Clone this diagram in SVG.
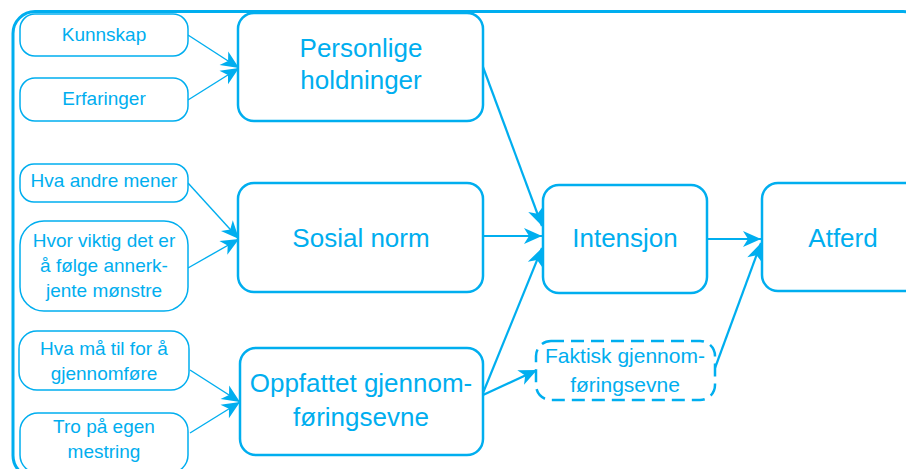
<svg xmlns="http://www.w3.org/2000/svg" width="906" height="469" viewBox="0 0 906 469">
<style>
.frame{fill:none;stroke:#00aeef;stroke-width:3}
.small{fill:#fff;stroke:#00aeef;stroke-width:1.5}
.big{fill:#fff;stroke:#00aeef;stroke-width:2.5}
.dash{fill:#fff;stroke:#00aeef;stroke-width:2.5;stroke-dasharray:13 7}
.ts{font-family:"Liberation Sans",Arial,sans-serif;font-size:19px;fill:#00aeef;text-anchor:middle}
.tb{font-family:"Liberation Sans",Arial,sans-serif;font-size:26px;fill:#00aeef;text-anchor:middle}
.tf{font-family:"Liberation Sans",Arial,sans-serif;font-size:21px;fill:#00aeef;text-anchor:middle}
.c1{fill:none;stroke:#00aeef;stroke-width:1.4;marker-end:url(#ah)}
.c2{fill:none;stroke:#00aeef;stroke-width:2.2;marker-end:url(#ah)}
</style>
<defs>
<marker id="ah" markerUnits="userSpaceOnUse" markerWidth="20" markerHeight="18" refX="18" refY="8" orient="auto" viewBox="0 0 20 18" overflow="visible">
<path d="M0,0 L18,8 L0,16 L5,8 z" fill="#00aeef"/>
</marker>
</defs>
<rect class="frame" x="13" y="11.5" width="912" height="466" rx="22"/>
<g id="connectors">
<path class="c1" d="M188,35 L239,68"/>
<path class="c1" d="M188,100 L239,68"/>
<path class="c1" d="M188,183 L239,239"/>
<path class="c1" d="M188,268 L239,239"/>
<path class="c1" d="M190,370 L240,402"/>
<path class="c1" d="M190,433 L240,402"/>
<path class="c2" d="M483,67 L542,226"/>
<path class="c2" d="M483,236 L542,236"/>
<path class="c2" d="M483,393 L542,248"/>
<path class="c2" d="M483,395 L537,370"/>
<path class="c2" d="M707,239 L761,239"/>
<path class="c2" d="M715,368 L761,243"/>
</g>
<g id="kunnskap"><rect class="small" x="20" y="14" width="168" height="42" rx="15"/><text class="ts" x="104" y="41">Kunnskap</text></g>
<g id="erfaringer"><rect class="small" x="20" y="78" width="168" height="43" rx="15"/><text class="ts" x="104" y="105">Erfaringer</text></g>
<g id="hva-andre"><rect class="small" x="20" y="164" width="168" height="38" rx="14"/><text class="ts" x="104" y="187">Hva andre mener</text></g>
<g id="hvor-viktig"><rect class="small" x="20" y="221" width="168" height="90" rx="24"/><text class="ts" x="104" y="247">Hvor viktig det er</text><text class="ts" x="104" y="272">å følge annerk-</text><text class="ts" x="104" y="297">jente mønstre</text></g>
<g id="hva-maa"><rect class="small" x="19" y="331" width="170" height="59" rx="18"/><text class="ts" x="104" y="355">Hva må til for å</text><text class="ts" x="104" y="380">gjennomføre</text></g>
<g id="tro-paa"><rect class="small" x="20" y="413" width="168" height="60" rx="18"/><text class="ts" x="104" y="433">Tro på egen</text><text class="ts" x="104" y="458">mestring</text></g>
<g id="personlige"><rect class="big" x="238" y="13" width="245" height="108" rx="16"/><text class="tb" x="361" y="57">Personlige</text><text class="tb" x="361" y="89">holdninger</text></g>
<g id="sosial"><rect class="big" x="238" y="183" width="245" height="109" rx="16"/><text class="tb" x="361" y="247">Sosial norm</text></g>
<g id="oppfattet"><rect class="big" x="240" y="348" width="243" height="107" rx="16"/><text class="tb" x="361" y="392">Oppfattet gjennom-</text><text class="tb" x="361" y="426">føringsevne</text></g>
<g id="intensjon"><rect class="big" x="543" y="185" width="164" height="108" rx="16"/><text class="tb" x="625" y="247">Intensjon</text></g>
<g id="atferd"><rect class="big" x="762" y="183" width="170" height="108" rx="16"/><text class="tb" x="843" y="247">Atferd</text></g>
<g id="faktisk"><rect class="dash" x="536" y="341" width="179" height="59" rx="15"/><text class="tf" x="625" y="363">Faktisk gjennom-</text><text class="tf" x="625" y="392">føringsevne</text></g>
</svg>
